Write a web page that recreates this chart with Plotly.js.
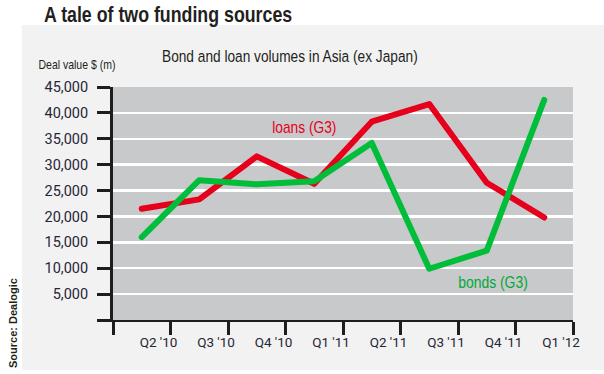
<!DOCTYPE html>
<html>
<head>
<meta charset="utf-8">
<script src="https://cdn.plot.ly/plotly-3.0.1.min.js"></script>
<style>html,body{margin:0;padding:0;background:#fff;}#chart{width:604px;height:374px;}</style>
</head>
<body>
<div id="chart"></div>
<script>
// Data
const pointIndex = [0, 1, 2, 3, 4, 5, 6, 7];
const loans = [21500, 23300, 31600, 26300, 38300, 41700, 26500, 19800];
const bonds = [16000, 27000, 26200, 26800, 34200, 9900, 13400, 42500];
const xTickVals = [-0.5, 0.5, 1.5, 2.5, 3.5, 4.5, 5.5, 6.5, 7.5];
const xTickText = ["", "Q2 '10", "Q3 '10", "Q4 '10", "Q1 '11", "Q2 '11", "Q3 '11", "Q4 '11", "Q1 '12"];
const yTickVals = [0, 5000, 10000, 15000, 20000, 25000, 30000, 35000, 40000, 45000];
const yTickText = ["", "5,000", "10,000", "15,000", "20,000", "25,000", "30,000", "35,000", "40,000", "45,000"];

const RED = '#e6001b';
const GREEN = '#00bd3a';
const SANS = '"Liberation Sans", Arial, sans-serif';

const traces = [
  {x: pointIndex, y: loans, type: 'scatter', mode: 'lines', name: 'loans (G3)',
   line: {color: RED, width: 6}, hoverinfo: 'skip'},
  {x: pointIndex, y: bonds, type: 'scatter', mode: 'lines', name: 'bonds (G3)',
   line: {color: GREEN, width: 6}, hoverinfo: 'skip'}
];

// horizontal condensing applied to each annotation (reference uses a condensed face)
const annScale = [0.827, 0.82, 0.82, 1, 0.86, 0.87];

const layout = {
  width: 604, height: 374,
  margin: {l: 113, r: 31, t: 87, b: 54, pad: 0},
  paper_bgcolor: '#f2f2f2',
  plot_bgcolor: '#c8c9cb',
  showlegend: false,
  xaxis: {
    range: [-0.5, 7.5], fixedrange: true,
    tickmode: 'array', tickvals: xTickVals, ticktext: xTickText,
    ticks: 'outside', ticklen: 13, tickwidth: 3, tickcolor: '#1e1e1e',
    ticklabelshift: -12, ticklabelstandoff: -4,
    showline: true, linecolor: '#1e1e1e', linewidth: 2,
    showgrid: false, zeroline: false,
    tickfont: {family: 'Roboto, sans-serif', size: 13.5, color: '#262637'}
  },
  yaxis: {
    range: [0, 45000], fixedrange: true,
    tickmode: 'array', tickvals: yTickVals, ticktext: yTickText,
    ticks: 'outside', ticklen: 13, tickwidth: 3, tickcolor: '#1e1e1e',
    ticklabelstandoff: 6,
    showline: true, linecolor: '#1e1e1e', linewidth: 3,
    showgrid: true, gridcolor: '#ffffff', gridwidth: 2.5,
    zeroline: false,
    tickfont: {family: 'Roboto, sans-serif', size: 14.5, color: '#262637'}
  },
  shapes: [
    {type: 'rect', xref: 'paper', yref: 'paper', x0: -0.3, x1: 1.2, y0: 1.266, y1: 1.5,
     fillcolor: '#ffffff', line: {width: 0}, layer: 'below'},
    {type: 'rect', xref: 'paper', yref: 'paper', x0: -0.3, x1: -0.1978, y0: -0.4, y1: 1.5,
     fillcolor: '#ffffff', line: {width: 0}, layer: 'below'},
    {type: 'rect', xref: 'paper', yref: 'paper', x0: -0.3, x1: 1.2, y0: -0.4, y1: -0.2146,
     fillcolor: '#ffffff', line: {width: 0}, layer: 'below'}
  ],
  annotations: [
    {text: '<b>A tale of two funding sources</b>', xref: 'paper', yref: 'paper',
     x: 0.1185, y: 1.309, xanchor: 'center', yanchor: 'middle', showarrow: false,
     font: {family: SANS, size: 21.5, color: '#231f20'}},
    {text: 'Bond and loan volumes in Asia (ex Japan)', xref: 'paper', yref: 'paper',
     x: 0.3848, y: 1.1288, xanchor: 'center', yanchor: 'middle', showarrow: false,
     font: {family: SANS, size: 16.7, color: '#231f20'}},
    {text: 'Deal value $ (m)', xref: 'paper', yref: 'paper',
     x: -0.0793, y: 1.0987, xanchor: 'center', yanchor: 'middle', showarrow: false,
     font: {family: SANS, size: 12.8, color: '#231f20'}},
    {text: '<b>Source: Dealogic</b>', xref: 'paper', yref: 'paper',
     x: -0.2174, y: -0.0129, xanchor: 'center', yanchor: 'middle', showarrow: false, textangle: -90,
     font: {family: SANS, size: 11, color: '#231f20'}},
    {text: 'loans (G3)', xref: 'paper', yref: 'paper',
     x: 0.417, y: 0.828, xanchor: 'center', yanchor: 'middle', showarrow: false,
     font: {family: SANS, size: 16, color: RED}},
    {text: 'bonds (G3)', xref: 'paper', yref: 'paper',
     x: 0.826, y: 0.163, xanchor: 'center', yanchor: 'middle', showarrow: false,
     font: {family: SANS, size: 16, color: '#00a838'}}
  ]
};

Plotly.newPlot('chart', traces, layout, {staticPlot: true, displayModeBar: false}).then(function (gd) {
  const texts = gd.querySelectorAll('.annotation-text');
  texts.forEach(function (t, i) {
    const s = annScale[i] || 1;
    if (s === 1) return;
    const x = parseFloat(t.getAttribute('x')) || 0;
    t.setAttribute('transform', 'translate(' + x + ',0) scale(' + s + ',1) translate(' + (-x) + ',0)');
  });
  gd.querySelectorAll('.scatterlayer .js-line').forEach(function (p) {
    p.style.strokeLinecap = 'round';
    p.style.strokeLinejoin = 'round';
  });
});
</script>
</body>
</html>
